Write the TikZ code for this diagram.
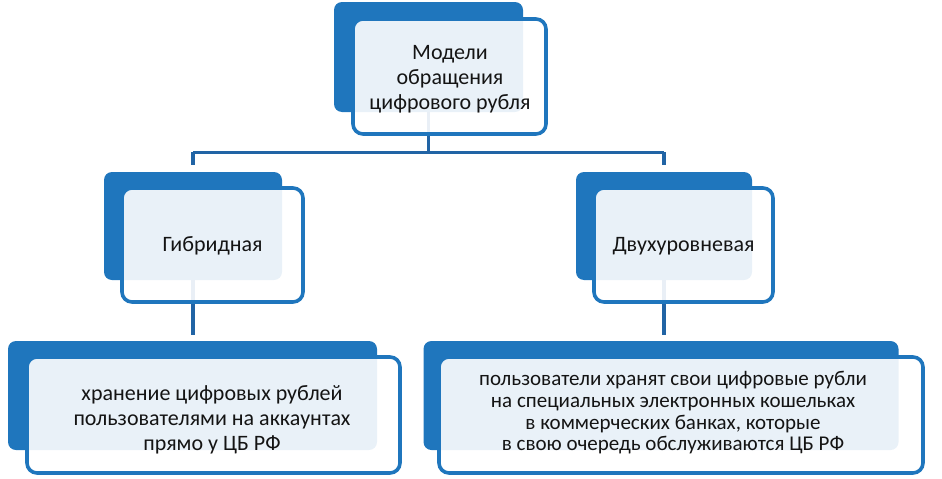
\documentclass[tikz,border=0pt]{standalone}
\usepackage{fontspec}
\setmainfont{Carlito}
\definecolor{boxblue}{RGB}{31,118,189}
\definecolor{connblue}{RGB}{33,100,165}
\definecolor{txtcol}{RGB}{20,20,20}
\begin{document}
\begin{tikzpicture}[x=1pt,y=-1pt,
  backbox/.style={fill=boxblue, draw=none, rounded corners=8pt, inner sep=0pt},
  frontbox/.style={fill=white, fill opacity=0.9, text opacity=1, draw=boxblue, draw opacity=1,
     line width=3.6pt, rounded corners=10pt, inner sep=0pt, align=center, text=txtcol,
     font=\fontsize{22}{25}\selectfont},
  conn/.style={draw=connblue, line width=3.3pt},
  txt/.style={align=center, inner sep=0pt, text=txtcol}
]
\useasboundingbox (0,0) rectangle (942,479);
% back boxes
\node[backbox, minimum width=189pt, minimum height=110pt] (topb) at (428.5,57) {};
\node[backbox, minimum width=178pt, minimum height=108pt] (hybb) at (193,226) {};
\node[backbox, minimum width=176pt, minimum height=108pt] (dvub) at (664,226) {};
\node[backbox, minimum width=369pt, minimum height=109pt] (blb) at (192.5,395.5) {};
\node[backbox, minimum width=475pt, minimum height=109pt] (brb) at (661,395.5) {};
% connectors
\draw[conn] (topb.south) -- ++(0,40) coordinate (mid);
\draw[conn] (hybb.north |- mid) -- (dvub.north |- mid);
\draw[conn, shorten >=7pt] (hybb.north |- mid) -- (hybb.north);
\draw[conn, shorten >=7pt] (dvub.north |- mid) -- (dvub.north);
\draw[conn, shorten >=6pt] (hybb.south) -- (hybb.south |- blb.north);
\draw[conn, shorten >=6pt] (dvub.south) -- (dvub.south |- brb.north);
% front boxes
\node[frontbox, minimum width=193pt, minimum height=115pt] (top) at (449.5,76.5) {};
\node[txt, font=\fontsize{22}{25}\selectfont] (topt) at (450,79)
  {Модели\\обращения\\цифрового рубля};
\node[frontbox, minimum width=181pt, minimum height=114pt] (hyb) at (212.5,245) {};
\node[txt, font=\fontsize{22}{25}\selectfont] (hybt) at (212.5,246) {Гибридная};
\node[frontbox, minimum width=179pt, minimum height=114pt] (dvu) at (683.5,245) {};
\node[txt, font=\fontsize{22}{25}\selectfont] (dvut) at (683.5,246) {Двухуровневая};
\node[frontbox, minimum width=373pt, minimum height=116pt] (bl) at (213.5,415) {};
\node[txt, font=\fontsize{22}{25}\selectfont] (blt) at (212,420)
  {хранение цифровых рублей\\пользователями на аккаунтах\\прямо у ЦБ РФ};
\node[frontbox, minimum width=484pt, minimum height=116pt] (br) at (681,415) {};
\node[txt, font=\fontsize{21}{21.7}\selectfont] (brt) at (673,413)
  {пользователи хранят свои цифровые рубли\\на специальных электронных кошельках\\в коммерческих банках, которые\\в свою очередь обслуживаются ЦБ РФ};
\end{tikzpicture}
\end{document}
